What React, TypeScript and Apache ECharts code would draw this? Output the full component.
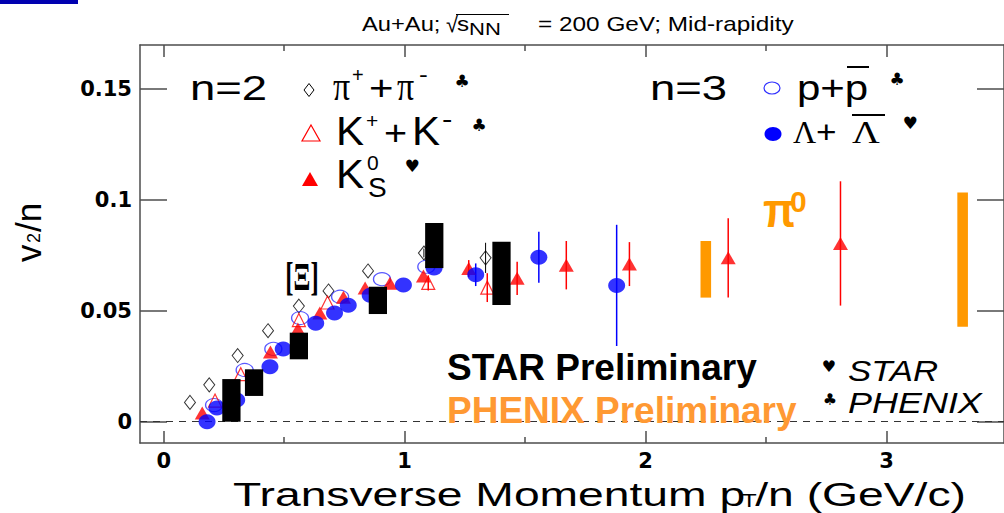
import React, { useEffect, useRef } from 'react';
import * as echarts from 'echarts';

// Axis ranges (v2/n vs pT/n)
const X_MIN = -0.0984;
const X_MAX = 3.4877;
const Y_MIN = -0.0096;
const Y_MAX = 0.1697;
const xMajorTicks = [0, 1, 2, 3];
const xMinorTicks = [0.5, 1.5, 2.5];
const yTicks = [0, 0.05, 0.1, 0.15];
const yTickLabels = ['0', '0.05', '0.1', '0.15'];

// pi+ + pi- (PHENIX), open diamonds
const piX = [0.109, 0.189, 0.307, 0.433, 0.561, 0.684, 0.848, 1.08, 1.336];
const piY = [0.0087, 0.0166, 0.0298, 0.041, 0.0521, 0.0589, 0.0679, 0.076, 0.0738];
const piErr = [0, 0, 0, 0, 0, 0, 0, 0.002, 0.0068];

// K+ + K- (PHENIX), open triangles
const kpmX = [0.213, 0.32, 0.561, 0.68, 1.098, 1.343];
const kpmY = [0.0095, 0.0214, 0.0458, 0.0537, 0.0625, 0.0604];
const kpmErr = [0, 0, 0, 0, 0.0034, 0.0065];

// K0s (STAR), filled triangles
const k0X = [0.16, 0.443, 0.557, 0.648, 0.746, 0.836, 0.939, 1.078, 1.266, 1.467, 1.671, 1.933, 2.343, 2.809];
const k0Y = [0.0039, 0.0314, 0.0418, 0.049, 0.0561, 0.0602, 0.0624, 0.0656, 0.069, 0.0646, 0.0705, 0.071, 0.0738, 0.0803];
const k0Err = [0, 0, 0, 0, 0, 0, 0, 0, 0.0038, 0.0075, 0.0109, 0.0099, 0.0178, 0.028];

// p + pbar (PHENIX), open circles
const ppX = [0.209, 0.336, 0.455, 0.566, 0.732, 0.906, 1.09];
const ppY = [0.0075, 0.0233, 0.0328, 0.0467, 0.0563, 0.0642, 0.0698];

// Lambda + Lambdabar (STAR), filled circles
const lamX = [0.18, 0.221, 0.303, 0.441, 0.496, 0.631, 0.709, 0.766, 0.857, 0.995, 1.122, 1.295, 1.557, 1.88];
const lamY = [0, 0.0062, 0.0098, 0.0248, 0.0328, 0.0444, 0.049, 0.0525, 0.057, 0.0616, 0.0692, 0.0662, 0.0741, 0.0614];
const lamErr = [0, 0, 0, 0, 0, 0, 0, 0, 0, 0, 0, 0.0051, 0.0115, 0.0273];

// Xi (STAR Preliminary), black boxes: low / high
const xiX = [0.281, 0.375, 0.561, 0.889, 1.123, 1.402];
const xiLo = [0.0, 0.0116, 0.0281, 0.0485, 0.0692, 0.0526];
const xiHi = [0.0192, 0.0236, 0.0401, 0.0608, 0.0895, 0.0811];

// pi0 (PHENIX Preliminary), orange bars: low / high
const pi0X = [2.25, 3.316];
const pi0Lo = [0.0559, 0.0428];
const pi0Hi = [0.0814, 0.1033];

const AXIS_COLOR = '#4d4d4d';

function T(text: string, x: number, base: number, size: number, o: any = {}) {
  const k = o.serif ? 0.3375 : 0.3465;
  return {
    type: 'text',
    x,
    y: base - k * size,
    scaleX: o.sx ?? 1,
    z: 100,
    silent: true,
    style: {
      text,
      fontSize: size,
      fontFamily: o.serif ? 'Liberation Serif' : o.ff ?? 'Liberation Sans',
      fontWeight: o.bold ? 'bold' : 'normal',
      fontStyle: o.italic ? 'italic' : 'normal',
      fill: o.color ?? '#000',
      align: o.align ?? 'left',
      verticalAlign: 'middle',
      textAlign: o.align ?? 'left',
      textVerticalAlign: 'middle',
    },
  };
}

function sym(ch: string, cx: number, cy: number, size = 17) {
  return {
    type: 'text', x: cx, y: cy, z: 100, silent: true,
    style: { text: ch, fontSize: size, fontFamily: 'DejaVu Sans', fill: '#000', align: 'center', verticalAlign: 'middle', textAlign: 'center', textVerticalAlign: 'middle' },
  };
}

function ln(x1: number, y1: number, x2: number, y2: number, w = 2, c = '#000') {
  return { type: 'line', z: 100, silent: true, shape: { x1, y1, x2, y2 }, style: { stroke: c, lineWidth: w } };
}

function errSeries(xs: number[], ys: number[], es: number[], color: string, w = 1.5) {
  return {
    type: 'custom',
    silent: true,
    z: 2,
    encode: { x: 0, y: 1 },
    data: xs.map((x, i) => [x, ys[i], es[i]]).filter((d) => d[2] > 0),
    renderItem: (_p: any, api: any) => {
      const x = api.value(0), y = api.value(1), e = api.value(2);
      const a = api.coord([x, y + e]);
      const b = api.coord([x, y - e]);
      return { type: 'line', shape: { x1: a[0], y1: a[1], x2: b[0], y2: b[1] }, style: { stroke: color, lineWidth: w } };
    },
  };
}

function boxSeries(xs: number[], lo: number[], hi: number[], w: number, color: string) {
  return {
    type: 'custom',
    silent: true,
    z: 8,
    encode: { x: 0, y: [1, 2] },
    data: xs.map((x, i) => [x, lo[i], hi[i]]),
    renderItem: (_p: any, api: any) => {
      const x = api.value(0);
      const a = api.coord([x - w / 2, api.value(2)]);
      const b = api.coord([x + w / 2, api.value(1)]);
      return { type: 'rect', shape: { x: a[0], y: a[1], width: b[0] - a[0], height: b[1] - a[1] }, style: { fill: color } };
    },
  };
}

const zip = (xs: number[], ys: number[]) => xs.map((x, i) => [x, ys[i]]);

const TICK_FONT = { color: '#000', fontFamily: 'DejaVu Sans', fontWeight: 'bold', fontSize: 21 };

function xAxisDef(position: string, ticks: number[], len: number, withLine: boolean, withLabels: boolean) {
  return {
    type: 'value',
    position,
    min: X_MIN,
    max: X_MAX,
    gridIndex: 0,
    splitLine: { show: false },
    axisLine: { show: withLine, onZero: false, lineStyle: { color: AXIS_COLOR, width: 1.5 } },
    axisTick: { show: true, inside: true, length: len, customValues: ticks, lineStyle: { color: AXIS_COLOR, width: 1.5 } },
    axisLabel: withLabels
      ? { show: true, customValues: xMajorTicks, margin: 7, ...TICK_FONT, formatter: (v: number) => String(Math.round(v)) }
      : { show: false },
  };
}

function yAxisDef(position: string, withLabels: boolean) {
  return {
    type: 'value',
    position,
    min: Y_MIN,
    max: Y_MAX,
    gridIndex: 0,
    splitLine: { show: false },
    axisLine: { show: true, onZero: false, lineStyle: { color: AXIS_COLOR, width: 1.5 } },
    axisTick: { show: true, inside: true, length: 27, customValues: yTicks, lineStyle: { color: AXIS_COLOR, width: 1.5 } },
    axisLabel: withLabels
      ? {
          show: true, customValues: yTicks, margin: 8, ...TICK_FONT,
          formatter: (v: number) => {
            const i = yTicks.findIndex((t) => Math.abs(t - v) < 1e-9);
            return i >= 0 ? yTickLabels[i] : '';
          },
        }
      : { show: false },
  };
}

function buildGraphics() {
  const els: any[] = [];
  // corner mark
  els.push({ type: 'rect', z: 100, silent: true, shape: { x: 0, y: 0, width: 78, height: 4 }, style: { fill: '#0000b0' } });

  // top title
  els.push(T('Au+Au;', 362, 31, 21, { sx: 1.13 }));
  els.push(T('\u221A', 446, 32, 22));
  els.push(ln(456, 14.5, 509, 14.5, 1.2));
  els.push(T('s', 457, 31, 21, { sx: 1.15 }));
  els.push(T('NN', 469, 35, 17, { sx: 1.3 }));
  els.push(T('= 200 GeV; Mid-rapidity', 538, 31, 21, { sx: 1.16 }));

  // n=2 block
  els.push(T('n=2', 190, 100, 35, { sx: 1.3 }));
  els.push({ type: 'polygon', z: 100, silent: true, shape: { points: [[309, 83.5], [314, 90], [309, 96.5], [304, 90]] }, style: { fill: '#fff', stroke: '#000', lineWidth: 1 } });
  els.push(T('\u03C0', 333, 100, 40, { serif: true, sx: 0.85 }));
  els.push(T('+', 352, 82, 20));
  els.push(T('+', 369, 100, 35, { sx: 1.2 }));
  els.push(T('\u03C0', 397, 100, 40, { serif: true, sx: 0.85 }));
  els.push(T('-', 419, 82, 22, { sx: 1.2 }));
  els.push(sym('\u2663', 462, 81));

  els.push({ type: 'polygon', z: 100, silent: true, shape: { points: [[311, 125], [320, 141], [302, 141]] }, style: { fill: '#fff', stroke: '#ff0000', lineWidth: 1.2 } });
  els.push(T('K', 336, 145, 40, { sx: 1.05 }));
  els.push(T('+', 366, 128, 21));
  els.push(T('+', 384, 145, 36, { sx: 1.1 }));
  els.push(T('K', 412, 145, 40, { sx: 1.05 }));
  els.push(T('-', 442, 128, 26, { sx: 1.2 }));
  els.push(sym('\u2663', 479, 125));

  els.push({ type: 'polygon', z: 100, silent: true, shape: { points: [[310, 172], [318, 186], [302, 186]] }, style: { fill: '#ff0000' } });
  els.push(T('K', 336, 188, 40, { sx: 1.05 }));
  els.push(T('0', 367, 170, 21));
  els.push(T('S', 368, 197, 28));
  els.push(sym('\u2665', 412, 166));

  // n=3 block
  els.push(T('n=3', 650, 100, 35, { sx: 1.3 }));
  els.push({ type: 'ellipse', z: 100, silent: true, shape: { cx: 772, cy: 88, rx: 8, ry: 6 }, style: { fill: 'none', stroke: '#3030ff', lineWidth: 1.2 } });
  els.push(T('p+p', 797, 100, 35, { sx: 1.2 }));
  els.push(ln(847, 67, 869, 67, 2));
  els.push(sym('\u2663', 897, 79));

  els.push({ type: 'ellipse', z: 100, silent: true, shape: { cx: 773, cy: 134, rx: 8.5, ry: 7 }, style: { fill: '#0000ff' } });
  els.push(T('\u039B', 793, 143, 32, { serif: true }));
  els.push(T('+', 816, 143, 32, { sx: 1.1 }));
  els.push(T('\u039B', 852, 143, 32, { serif: true, sx: 1.2 }));
  els.push(ln(852, 115, 885, 115, 2));
  els.push(sym('\u2665', 910, 123));

  // Xi label
  els.push({
    type: 'text', x: 302, y: 276, scaleX: 0.62, z: 100, silent: true,
    style: { text: '[\u039E]', fontSize: 40, fontFamily: 'Liberation Serif', fontWeight: 'bold', fill: '#000', align: 'center', verticalAlign: 'middle', textAlign: 'center', textVerticalAlign: 'middle' },
  });

  // pi0 label
  els.push(T('\u03C0', 763, 227, 48, { bold: true, color: '#ff9900', sx: 0.9 }));
  els.push(T('0', 790, 212, 30, { bold: true, color: '#ff9900' }));

  // preliminary labels
  els.push(T('STAR Preliminary', 447, 380, 37, { bold: true }));
  els.push(T('PHENIX Preliminary', 447, 423, 37, { bold: true, color: '#ff9933' }));
  els.push(sym('\u2665', 829, 366, 16));
  els.push(T('STAR', 848, 381, 29, { italic: true, sx: 1.2 }));
  els.push(sym('\u2663', 830, 399, 16));
  els.push(T('PHENIX', 848, 413, 29, { italic: true, sx: 1.24 }));

  // x axis title
  els.push({
    type: 'group', x: 233, y: 0, scaleX: 1.36,
    children: [
      T('Transverse Momentum p', 0, 506, 34),
      T('T', 374, 507, 18),
      T('/n (GeV/c)', 384, 506, 34),
    ],
  });

  // y axis title (rotated)
  els.push({
    type: 'group', x: 28, y: 262, rotation: Math.PI / 2,
    children: [
      { type: 'text', x: 0, y: 0, z: 100, style: { text: 'v', fontSize: 35, fontFamily: 'Liberation Sans', fill: '#000', align: 'left', verticalAlign: 'middle', textAlign: 'left', textVerticalAlign: 'middle' } },
      { type: 'text', x: 19, y: 6, z: 100, style: { text: '2', fontSize: 18, fontFamily: 'Liberation Sans', fill: '#000', align: 'left', verticalAlign: 'middle', textAlign: 'left', textVerticalAlign: 'middle' } },
      { type: 'text', x: 30, y: 0, z: 100, style: { text: '/n', fontSize: 35, fontFamily: 'Liberation Sans', fill: '#000', align: 'left', verticalAlign: 'middle', textAlign: 'left', textVerticalAlign: 'middle' } },
    ],
  });
  return els;
}

function buildOption(): any {
  return {
    animation: false,
    backgroundColor: '#fff',
    grid: { left: 140, top: 45, width: 875, height: 398, containLabel: false },
    xAxis: [
      xAxisDef('bottom', xMajorTicks, 12, true, true),
      xAxisDef('bottom', xMinorTicks, 6, false, false),
      xAxisDef('top', xMajorTicks, 12, true, false),
      xAxisDef('top', xMinorTicks, 6, false, false),
    ],
    yAxis: [yAxisDef('left', true), yAxisDef('right', false)],
    series: [
      errSeries(piX, piY, piErr, '#000', 1),
      errSeries(kpmX, kpmY, kpmErr, '#ff0000'),
      errSeries(k0X, k0Y, k0Err, '#ff0000'),
      errSeries(lamX, lamY, lamErr, '#0000ff'),
      {
        type: 'scatter', name: 'pi', z: 3, silent: true,
        data: zip(piX, piY), symbol: 'diamond', symbolSize: [11, 14],
        itemStyle: { color: 'rgba(255,255,255,0)', borderColor: '#000', borderWidth: 1 },
        markLine: {
          silent: true, symbol: ['none', 'none'], label: { show: false },
          lineStyle: { color: '#333', type: [7, 6], width: 1 },
          data: [{ yAxis: 0 }],
        },
      },
      {
        type: 'scatter', name: 'ppbar', z: 4, silent: true,
        data: zip(ppX, ppY), symbol: 'circle', symbolSize: [17, 13],
        itemStyle: { color: 'rgba(255,255,255,0)', borderColor: '#3030ff', borderWidth: 1.2 },
      },
      {
        type: 'scatter', name: 'kpm', z: 5, silent: true,
        data: zip(kpmX, kpmY), symbol: 'triangle', symbolSize: [13, 13],
        itemStyle: { color: 'rgba(255,255,255,0)', borderColor: '#ff0000', borderWidth: 1.2 },
      },
      {
        type: 'scatter', name: 'k0s', z: 6, silent: true,
        data: zip(k0X, k0Y), symbol: 'triangle', symbolSize: [15, 13],
        itemStyle: { color: '#ff0000' },
      },
      {
        type: 'scatter', name: 'lambda', z: 7, silent: true,
        data: zip(lamX, lamY), symbol: 'circle', symbolSize: [17, 15],
        itemStyle: { color: '#0000ff' },
      },
      boxSeries(xiX, xiLo, xiHi, 0.0758, '#000'),
      boxSeries(pi0X, pi0Lo, pi0Hi, 0.044, '#ff9900'),
    ],
    graphic: { elements: buildGraphics() },
  };
}

export default function App() {
  const ref = useRef<HTMLDivElement>(null);
  useEffect(() => {
    const chart = echarts.init(ref.current!, null, { renderer: 'svg' });
    chart.setOption(buildOption());
    return () => chart.dispose();
  }, []);
  return (
    <div
      ref={ref}
      style={{ position: 'absolute', left: 0, top: 0, width: 1004, height: 513, background: '#fff' }}
    />
  );
}
